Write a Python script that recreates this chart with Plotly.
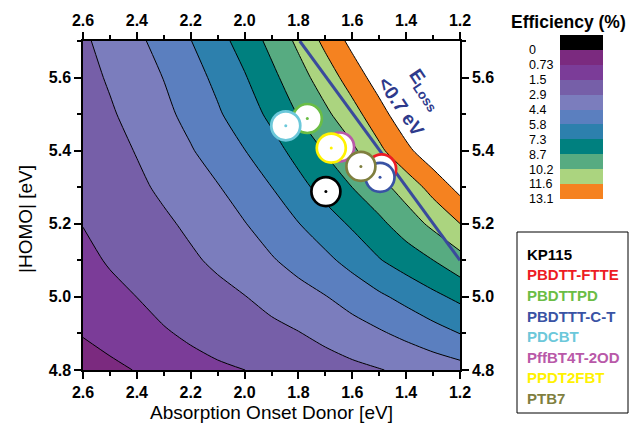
import plotly.graph_objects as go

W, H = 630, 426
FONT = "Liberation Sans, Arial, sans-serif"

# ---------------- data ----------------
onset_grid = [2.6, 2.5, 2.4, 2.3, 2.2, 2.1, 2.0, 1.9, 1.8, 1.7, 1.6, 1.5, 1.4, 1.3, 1.2]
homo_grid = [4.8, 4.9, 5.0, 5.1, 5.2, 5.3, 5.4, 5.5, 5.6, 5.7]
efficiency = [
    [0.41, 0.58, 0.76, 0.93, 1.11, 1.28, 1.45, 1.73, 2.01, 2.29, 2.58, 2.85, 3.17, 3.49, 3.83],
    [0.77, 0.97, 1.16, 1.36, 1.62, 1.92, 2.24, 2.55, 2.85, 3.28, 3.74, 4.19, 4.70, 5.27, 5.84],
    [0.96, 1.21, 1.46, 1.80, 2.15, 2.52, 2.87, 3.33, 3.83, 4.31, 4.93, 5.58, 6.23, 6.93, 7.61],
    [1.22, 1.54, 1.94, 2.31, 2.71, 3.16, 3.70, 4.24, 4.86, 5.50, 6.29, 7.19, 7.96, 8.72, 9.68],
    [1.48, 1.89, 2.29, 2.69, 3.16, 3.74, 4.31, 5.04, 5.78, 6.61, 7.48, 8.41, 9.45, 10.52, 11.63],
    [1.69, 2.17, 2.65, 3.16, 3.73, 4.28, 5.04, 5.81, 6.84, 7.80, 8.74, 9.71, 10.82, 12.14, 13.55],
    [1.92, 2.45, 2.98, 3.62, 4.26, 5.02, 5.79, 6.74, 7.76, 8.84, 9.91, 11.34, 12.74, 14.09, 15.43],
    [2.18, 2.75, 3.38, 4.03, 4.79, 5.65, 6.58, 7.60, 8.81, 9.91, 11.12, 12.55, 14.09, 15.57, 17.03],
    [2.45, 3.06, 3.73, 4.40, 5.25, 6.16, 7.16, 8.37, 9.62, 10.90, 12.30, 13.78, 15.28, 16.74, 18.20],
    [2.71, 3.36, 4.08, 4.89, 5.79, 6.77, 7.87, 9.13, 10.48, 11.99, 13.51, 14.99, 16.45, 17.90, 19.36],
]

level_labels = ["0", "0.73", "1.5", "2.9", "4.4", "5.8", "7.3", "8.7", "10.2", "11.6", "13.1"]
level_max = 13.1
n_levels = 9
corner_level = 0.73

polymers = ["KP115", "PBDTT-FTTE", "PBDTTPD", "PBDTTT-C-T", "PDCBT",
            "PffBT4T-2OD", "PPDT2FBT", "PTB7"]
polymer_onset = [1.698, 1.491, 1.767, 1.497, 1.847, 1.647, 1.678, 1.568]
polymer_homo = [5.288, 5.350, 5.488, 5.327, 5.468, 5.410, 5.407, 5.357]
polymer_colors = ["#000000", "#ED1C24", "#6ABD45", "#3953A4", "#6CC8DA",
                  "#B959A8", "#FFF200", "#7F7F3F"]

eloss_onset = [1.795, 1.2]
eloss_homo = [5.7, 5.1]

# ---------------- styling ----------------
bar_colors = ["#000000", "#7B2A7F", "#7B3C98", "#765FA8", "#7B7DBD", "#5B7FBF",
              "#2D80AD", "#00807F", "#57AB81", "#ABD47F", "#F58220"]
fill_colors = bar_colors[2:] + ["#FFFFFF"]
level_step = level_max / n_levels

fig = go.Figure()

fig.add_trace(go.Contour(
    x=onset_grid, y=homo_grid, z=efficiency,
    contours=dict(start=level_step, end=level_max + 0.01, size=level_step, coloring="fill"),
    colorscale=[[j / (len(fill_colors) - 1), c] for j, c in enumerate(fill_colors)],
    line=dict(color="black", width=1, smoothing=0.7),
    showscale=False, hoverinfo="skip", xaxis="x", yaxis="y"))

# low-efficiency corner (the constraint fill marks the excluded side)
fig.add_trace(go.Contour(
    x=onset_grid, y=homo_grid, z=efficiency,
    contours=dict(type="constraint", operation=">", value=corner_level),
    fillcolor=bar_colors[1], line=dict(color="black", width=1, smoothing=0.7),
    showscale=False, hoverinfo="skip", xaxis="x", yaxis="y"))

fig.add_trace(go.Scatter(
    x=eloss_onset, y=eloss_homo, mode="lines",
    line=dict(color="#3A4A9C", width=3), hoverinfo="skip", showlegend=False))

for name, xo, yh, col in zip(polymers, polymer_onset, polymer_homo, polymer_colors):
    fig.add_trace(go.Scatter(
        x=[xo], y=[yh], mode="markers", name=name, showlegend=False,
        marker=dict(size=29, color="white", line=dict(color=col, width=2.7))))
    fig.add_trace(go.Scatter(
        x=[xo], y=[yh], mode="markers", showlegend=False, hoverinfo="skip",
        marker=dict(size=3, color=col, line=dict(width=0))))

# empty traces to attach the mirrored axes
fig.add_trace(go.Scatter(x=[], y=[], xaxis="x2", yaxis="y", showlegend=False))
fig.add_trace(go.Scatter(x=[], y=[], xaxis="x", yaxis="y2", showlegend=False))

# colour key
n_bar = len(bar_colors)
disc = []
for i, c in enumerate(bar_colors):
    disc += [[i / n_bar, c], [(i + 1) / n_bar, c]]
fig.add_trace(go.Heatmap(
    z=[[i] for i in range(n_bar)], x=[0], y=list(range(n_bar)),
    colorscale=disc, zmin=-0.5, zmax=n_bar - 0.5, showscale=False,
    hoverinfo="skip", xaxis="x3", yaxis="y3"))

x_dom = [83 / W, 460 / W]
y_dom = [1 - 370 / H, 1 - 41 / H]
tickfont = dict(family=FONT, size=16, color="black", weight="bold")
common = dict(showline=True, linecolor="black", linewidth=1.5, ticks="outside",
              ticklen=7, tickwidth=1.5, tickcolor="black", showgrid=False,
              zeroline=False, tickfont=tickfont, automargin=False,
              tickformat=".1f",
              minor=dict(ticks="outside", ticklen=4, tickwidth=1.5,
                         tickcolor="black", dtick=0.1, showgrid=False))

fig.update_layout(
    width=W, height=H, margin=dict(l=0, r=0, t=0, b=0),
    paper_bgcolor="white", plot_bgcolor="white", showlegend=False,
    font=dict(family=FONT, color="black"),
    xaxis=dict(domain=x_dom, range=[2.6, 1.2], tick0=1.2, dtick=0.2, anchor="y", side="bottom", **common),
    xaxis2=dict(domain=x_dom, range=[2.6, 1.2], tick0=1.2, dtick=0.2, anchor="y",
                overlaying="x", side="top", **common),
    yaxis=dict(domain=y_dom, range=[4.8, 5.7], tick0=4.8, dtick=0.2, anchor="x", side="left", **common),
    yaxis2=dict(domain=y_dom, range=[4.8, 5.7], tick0=4.8, dtick=0.2, anchor="x",
                overlaying="y", side="right", **common),
    xaxis3=dict(domain=[560 / W, 603 / W], range=[-0.5, 0.5], anchor="y3",
                visible=False, fixedrange=True),
    yaxis3=dict(domain=[1 - 199 / H, 1 - 35 / H], range=[n_bar - 0.5, -0.5],
                anchor="free", position=528 / W, side="right",
                tickvals=[i + 0.5 for i in range(n_bar)], ticktext=level_labels,
                ticks="", showline=False, showgrid=False, zeroline=False,
                tickfont=dict(family=FONT, size=12.5, color="black"),
                automargin=False, fixedrange=True),
)

ann = []
ann.append(dict(text="Efficiency (%)", x=568 / W, y=1 - 22 / H, xref="paper", yref="paper",
                showarrow=False, xanchor="center", yanchor="middle",
                font=dict(family=FONT, size=17.5, color="black", weight="bold")))
ann.append(dict(text="Absorption Onset Donor [eV]", x=271.5 / W, y=1 - 412 / H,
                xref="paper", yref="paper", showarrow=False, xanchor="center",
                yanchor="middle", font=dict(family=FONT, size=19, color="black")))
ann.append(dict(text="|HOMO| [eV]", x=25 / W, y=1 - 219 / H, xref="paper", yref="paper",
                showarrow=False, xanchor="center", yanchor="middle", textangle=-90,
                font=dict(family=FONT, size=19, color="black")))
eloss_font = dict(family=FONT, size=19, color="#2E3A8C", weight="bold")
ann.append(dict(text="E<sub>Loss</sub>", x=1.330, y=5.566, xref="x", yref="y",
                showarrow=False, xanchor="center", yanchor="middle", textangle=56,
                font=eloss_font))
ann.append(dict(text="&lt;0.7 eV", x=1.419, y=5.521, xref="x", yref="y",
                showarrow=False, xanchor="center", yanchor="middle", textangle=56,
                font=eloss_font))
for i, (name, col) in enumerate(zip(polymers, polymer_colors)):
    ann.append(dict(text=name, x=525 / W, y=1 - (254.3 + i * 20.6) / H,
                    xref="paper", yref="paper", showarrow=False,
                    xanchor="left", yanchor="middle",
                    font=dict(family=FONT, size=15, color=col, weight="bold")))
fig.update_layout(annotations=ann)

fig.add_shape(type="rect", xref="paper", yref="paper",
              x0=517 / W, x1=628 / W, y0=1 - 413 / H, y1=1 - 232 / H,
              line=dict(color="black", width=1), fillcolor="rgba(0,0,0,0)")

fig.write_html("out.html")
